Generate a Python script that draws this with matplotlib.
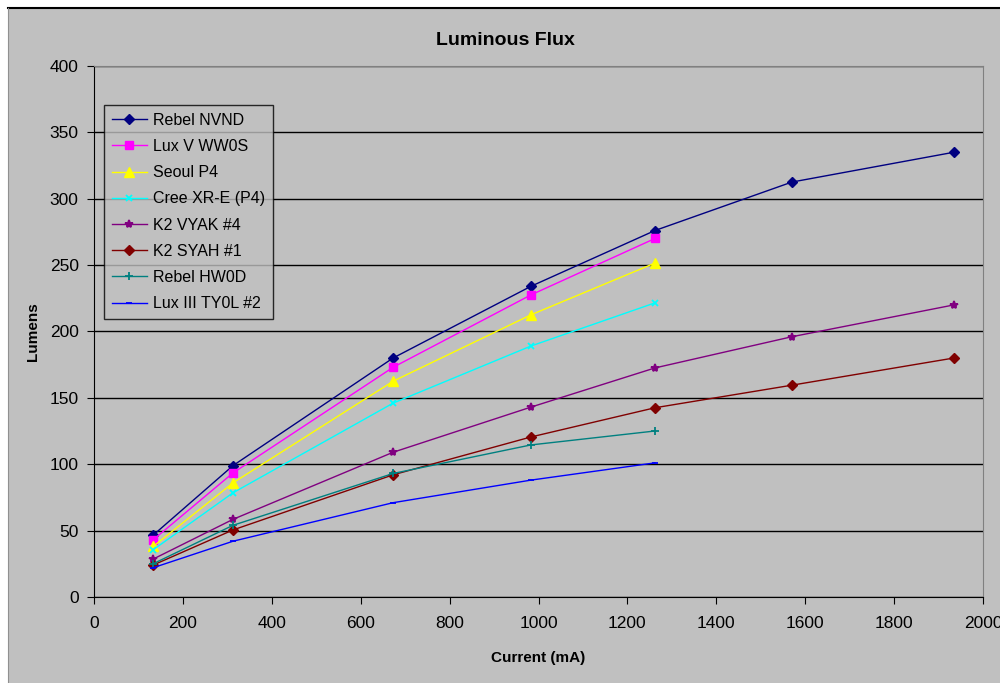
import matplotlib.pyplot as plt
from matplotlib.patches import Rectangle
from matplotlib.lines import Line2D

plt.rcParams['font.family'] = ['Liberation Sans', 'DejaVu Sans']

# currents (mA) and flux (lumens)
current_long = [133, 313, 673, 983, 1262, 1570, 1935]
current_short = [133, 313, 673, 983, 1262]

rebel_nvnd = [46.5, 99, 180, 234, 276, 312.5, 335]
lux_v_ww0s = [43, 93.5, 173, 227.5, 270]
seoul_p4 = [38, 86, 162.5, 212.5, 251.5]
cree_xre_p4 = [35.5, 78.5, 146, 189, 221.5]
k2_vyak_4 = [28.5, 58.5, 109, 143, 172.5, 196, 220]
k2_syah_1 = [24, 50.5, 92, 120.5, 142.5, 159.5, 180]
rebel_hw0d = [25, 54, 93, 114.5, 125]
lux_iii_ty0l_2 = [22, 42, 71, 88, 101]

series = [
    ("Rebel NVND", current_long, rebel_nvnd, "#000080", "D", 5),
    ("Lux V WW0S", current_short, lux_v_ww0s, "#FF00FF", "s", 5.5),
    ("Seoul P4", current_short, seoul_p4, "#FFFF00", "^", 6.5),
    ("Cree XR-E (P4)", current_short, cree_xre_p4, "#00FFFF", "x", 5),
    ("K2 VYAK #4", current_long, k2_vyak_4, "#800080", "*", 6),
    ("K2 SYAH #1", current_long, k2_syah_1, "#800000", "D", 5),
    ("Rebel HW0D", current_short, rebel_hw0d, "#008080", "+", 6),
    ("Lux III TY0L #2", current_short, lux_iii_ty0l_2, "#0000FF", "_", 5),
]

gray = "#C0C0C0"
fig = plt.figure(figsize=(10, 6.83), dpi=100, facecolor=gray)

# white margin strips + black border line like the screenshot
fig.patches.append(Rectangle((0, 0), 0.008, 1, transform=fig.transFigure,
                             facecolor="white", edgecolor="none", zorder=0))
fig.patches.append(Rectangle((0, 0.99), 1, 0.01, transform=fig.transFigure,
                             facecolor="white", edgecolor="none", zorder=0))
fig.add_artist(Line2D([0.008, 1], [0.989, 0.989], transform=fig.transFigure,
                      color="black", lw=1.5))
fig.add_artist(Line2D([0.008, 0.008], [0, 0.989], transform=fig.transFigure,
                      color="#909090", lw=0.8))

ax = fig.add_axes([0.094, 0.126, 0.889, 0.7775])
ax.set_facecolor(gray)

for name, x, y, c, m, ms in series:
    mew = 1.3 if m in ("x", "+", "_", "*") else 1
    ax.plot(x, y, color=c, lw=1, marker=m, markersize=ms,
            markeredgecolor=c, markerfacecolor=c, markeredgewidth=mew, label=name)

ax.set_xlim(0, 2000)
ax.set_ylim(0, 400)
ax.set_xticks(range(0, 2001, 200))
ax.set_yticks(range(0, 401, 50))
ax.yaxis.grid(True, color="black", lw=1)
ax.set_axisbelow(True)
ax.tick_params(labelsize=12.5, length=5, direction="out", color="black")
ax.tick_params(axis="x", pad=9)
ax.tick_params(axis="y", pad=6)

for s in ("top", "right"):
    ax.spines[s].set_color("#808080")
for s in ("left", "bottom"):
    ax.spines[s].set_color("black")

fig.text(0.505, 0.941, "Luminous Flux", fontsize=14, fontweight="bold",
         ha="center", va="center")
ax.set_xlabel("Current (mA)", fontsize=11, fontweight="bold", labelpad=14)
ax.set_ylabel("Lumens", fontsize=11, fontweight="bold", labelpad=7)

leg = ax.legend(loc="upper left", bbox_to_anchor=(0.011, 0.9266), fontsize=11.5,
                frameon=True, fancybox=False, facecolor=gray, edgecolor="black",
                handlelength=2.2, handletextpad=0.4, labelspacing=0.7,
                borderpad=0.5, borderaxespad=0)
leg.get_frame().set_linewidth(1)

fig.savefig("out.png", dpi=100, facecolor=gray)
